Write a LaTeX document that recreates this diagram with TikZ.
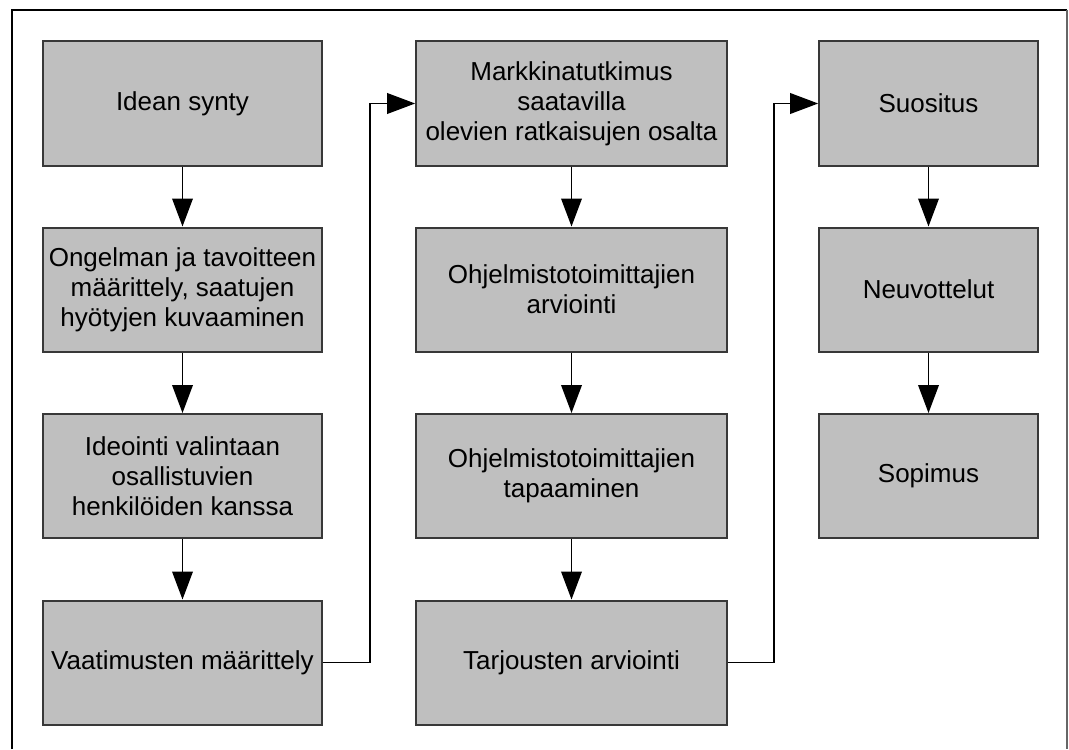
\documentclass[tikz,border=0pt]{standalone}
\usepackage{fontspec}
\setmainfont{Liberation Sans}
\usetikzlibrary{arrows.meta}

\begin{document}
\begin{tikzpicture}[x=0.75pt,y=-0.75pt,
  box/.style={draw=black!78,line width=1.5pt,fill=black!25,inner sep=0pt,align=center,
    minimum height=93pt,font=\fontsize{19.5}{22.5}\selectfont},
  arr/.style={line width=1.1pt,-{Triangle[length=21pt,width=15.5pt]}}]
\useasboundingbox (0,0) rectangle (1069,749);
\draw[line width=1.1pt] (12,749) -- (12,10) -- (1067,10);
\draw[line width=1.1pt,black!60] (1067,10) -- (1067,749);
% first column
\node[box,minimum width=209pt] (idea) at (182.5,103.5) {Idean synty};
\node[box,minimum width=209pt] (ongelma) at (182.5,289.5) {Ongelman ja tavoitteen\\m\"a\"arittely, saatujen\\hy\"otyjen kuvaaminen};
\node[box,minimum width=209pt] (ideointi) at (182.5,476) {Ideointi valintaan\\osallistuvien\\henkil\"oiden kanssa};
\node[box,minimum width=209pt] (vaatimus) at (182.5,662.5) {Vaatimusten m\"a\"arittely};
% second column
\node[box,minimum width=233pt] (markkina) at (571.5,103.5) {Markkinatutkimus\\saatavilla\\olevien ratkaisujen osalta};
\node[box,minimum width=233pt] (arvio) at (571.5,289.5) {Ohjelmistotoimittajien\\arviointi};
\node[box,minimum width=233pt] (tapaaminen) at (571.5,476) {Ohjelmistotoimittajien\\tapaaminen};
\node[box,minimum width=233pt] (tarjous) at (571.5,662.5) {Tarjousten arviointi};
% third column
\node[box,minimum width=164pt] (suositus) at (928.5,103.5) {Suositus};
\node[box,minimum width=164pt] (neuvottelu) at (928.5,289.5) {Neuvottelut};
\node[box,minimum width=164pt] (sopimus) at (928.5,476) {Sopimus};
\draw[arr] (idea) -- (ongelma);
\draw[arr] (ongelma) -- (ideointi);
\draw[arr] (ideointi) -- (vaatimus);
\draw[arr] (vaatimus.east) -- ++(47,0) |- (markkina.west);
\draw[arr] (markkina) -- (arvio);
\draw[arr] (arvio) -- (tapaaminen);
\draw[arr] (tapaaminen) -- (tarjous);
\draw[arr] (tarjous.east) -- ++(46,0) |- (suositus.west);
\draw[arr] (suositus) -- (neuvottelu);
\draw[arr] (neuvottelu) -- (sopimus);
\end{tikzpicture}
\end{document}
